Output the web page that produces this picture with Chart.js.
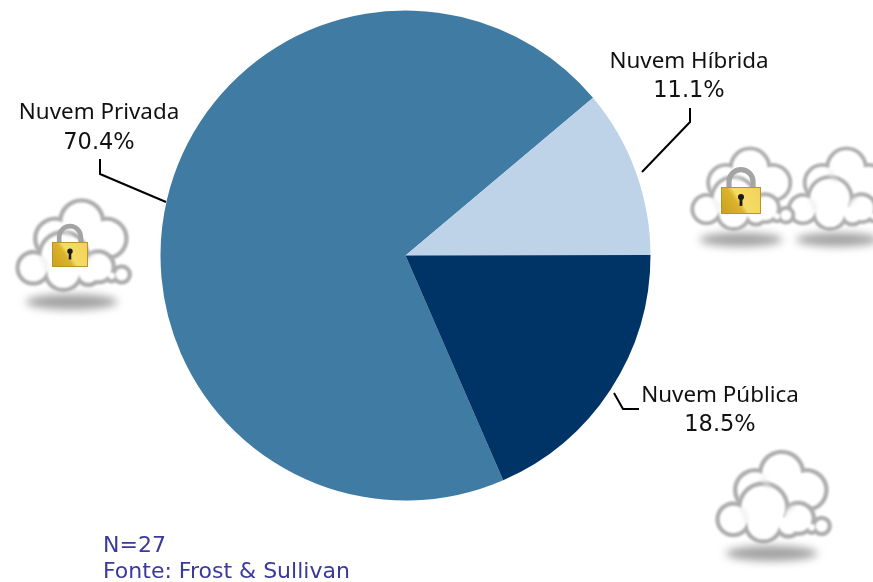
<!DOCTYPE html>
<html><head><meta charset="utf-8">
<style>html,body{margin:0;padding:0;background:#fff}canvas{display:block}</style>
<script src="https://cdn.jsdelivr.net/npm/chart.js@4/dist/chart.umd.min.js"></script>
</head><body><canvas id="c" width="873" height="582"></canvas>
<script>
const categories = ["Nuvem Privada", "Nuvem Híbrida", "Nuvem Pública"];
const shares = [70.4, 11.1, 18.5];
const sliceColors = ["#3f7ba3", "#bed2e8", "#003366"];
const footerLines = ["N=27", "Fonte: Frost & Sullivan"];

const backBumps = [[245,100,70],[165,150,65],[320,150,65],[245,170,70]];
const frontBumps = [[190,203,78],[100,238,53],[295,235,52],[190,250,60],[265,255,40],[335,262,22],[365,258,30]];

function circles(ctx, list, grow){
  ctx.beginPath();
  list.forEach(b=>{ctx.moveTo(b[0]+b[2]+grow,b[1]);ctx.arc(b[0],b[1],b[2]+grow,0,Math.PI*2);});
  ctx.fill();
}
function softFold(ctx, b, a0, a1){
  ctx.beginPath();ctx.arc(b[0],b[1],b[2]-14,a0,a1);ctx.stroke();
}
function cloud(ctx, ox, oy, s){
  ctx.save();
  ctx.translate(ox,oy); ctx.scale(s/3,s/3);
  ctx.save();
  ctx.filter='blur(4px)';
  ctx.fillStyle='#a2a2a2';
  ctx.beginPath();ctx.ellipse(215,340,138,23,0,0,Math.PI*2);ctx.fill();
  ctx.restore();
  ctx.filter='blur(0.9px)';
  [backBumps,frontBumps].forEach(list=>{
    ctx.fillStyle='#aeaeae'; circles(ctx,list,1);
    ctx.fillStyle='#ffffff'; circles(ctx,list,-12);
  });
  ctx.filter='blur(2px)';
  ctx.strokeStyle='#e6e6e6';ctx.lineWidth=8;
  softFold(ctx,frontBumps[1],-1.0,0.2);
  softFold(ctx,frontBumps[2],3.4,4.4);
  softFold(ctx,backBumps[0],2.2,3.0);
  ctx.restore();
}
function lock(ctx, x, y, w, h){
  ctx.save();
  ctx.filter='blur(0.5px)';
  const cx=x+w/2;
  ctx.strokeStyle='#a4a4a4';ctx.lineWidth=w*0.13;
  ctx.beginPath();ctx.moveTo(cx-w*0.3,y+2);ctx.lineTo(cx-w*0.3,y-h*0.2);
  ctx.arc(cx,y-h*0.2,w*0.3,Math.PI,0);ctx.lineTo(cx+w*0.3,y+2);ctx.stroke();
  const g=ctx.createLinearGradient(x,y+h,x+w,y);
  g.addColorStop(0,'#c9a01e');g.addColorStop(0.4,'#dcb32c');g.addColorStop(0.5,'#f5dc66');g.addColorStop(1,'#f2d257');
  ctx.fillStyle=g;ctx.fillRect(x,y,w,h);
  ctx.strokeStyle='#b8952a';ctx.lineWidth=1;ctx.strokeRect(x+.5,y+.5,w-1,h-1);
  ctx.fillStyle='#1a1a1a';
  ctx.beginPath();ctx.arc(cx,y+h*0.37,w*0.075,0,Math.PI*2);ctx.fill();
  ctx.fillRect(cx-w*0.035,y+h*0.37,w*0.07,h*0.33);
  ctx.restore();
}
function leader(ctx, pts){
  ctx.beginPath();
  pts.forEach((p,i)=>i?ctx.lineTo(p[0],p[1]):ctx.moveTo(p[0],p[1]));
  ctx.stroke();
}
const decor = {
  id:'decor',
  afterDraw(chart){
    const ctx=chart.ctx;
    cloud(ctx,0,188.5,1);
    lock(ctx,52,242,36,25);
    cloud(ctx,773,137.7,0.9);
    cloud(ctx,676.5,137.7,0.9);
    lock(ctx,721,187,40,27);
    cloud(ctx,700,440,1);
    ctx.save();
    ctx.strokeStyle='#000';ctx.lineWidth=2;
    leader(ctx,[[100,159],[100,174],[166,202]]);
    leader(ctx,[[690,108],[690,122],[642,172]]);
    leader(ctx,[[614,393],[623,409],[639,409]]);
    ctx.fillStyle='#111';ctx.textAlign='center';ctx.textBaseline='middle';
    const spots=[[99,113,143],[689,62,91],[720,396,425]];
    categories.forEach((c,i)=>{
      ctx.font='22.4px "Noto Sans"';
      ctx.fillText(c,spots[i][0],spots[i][1]);
      ctx.font='22.5px "DejaVu Sans"';
      ctx.fillText(shares[i].toFixed(1)+'%',spots[i][0],spots[i][2]);
    });
    ctx.textAlign='left';ctx.fillStyle='#3a3a9e';
    ctx.font='22px "DejaVu Sans"';
    ctx.fillText(footerLines[0],103,546);
    ctx.fillText(footerLines[1],103,572);
    ctx.restore();
  }
};
new Chart(document.getElementById('c'),{
  type:'pie',
  data:{labels:categories,datasets:[{data:shares,backgroundColor:sliceColors,borderWidth:0}]},
  options:{
    responsive:false,animation:false,rotation:156.5,
    layout:{padding:{left:160.5,right:222.5,top:10.5,bottom:81.5}},
    plugins:{legend:{display:false},tooltip:{enabled:false}}
  },
  plugins:[decor]
});
</script></body></html>
